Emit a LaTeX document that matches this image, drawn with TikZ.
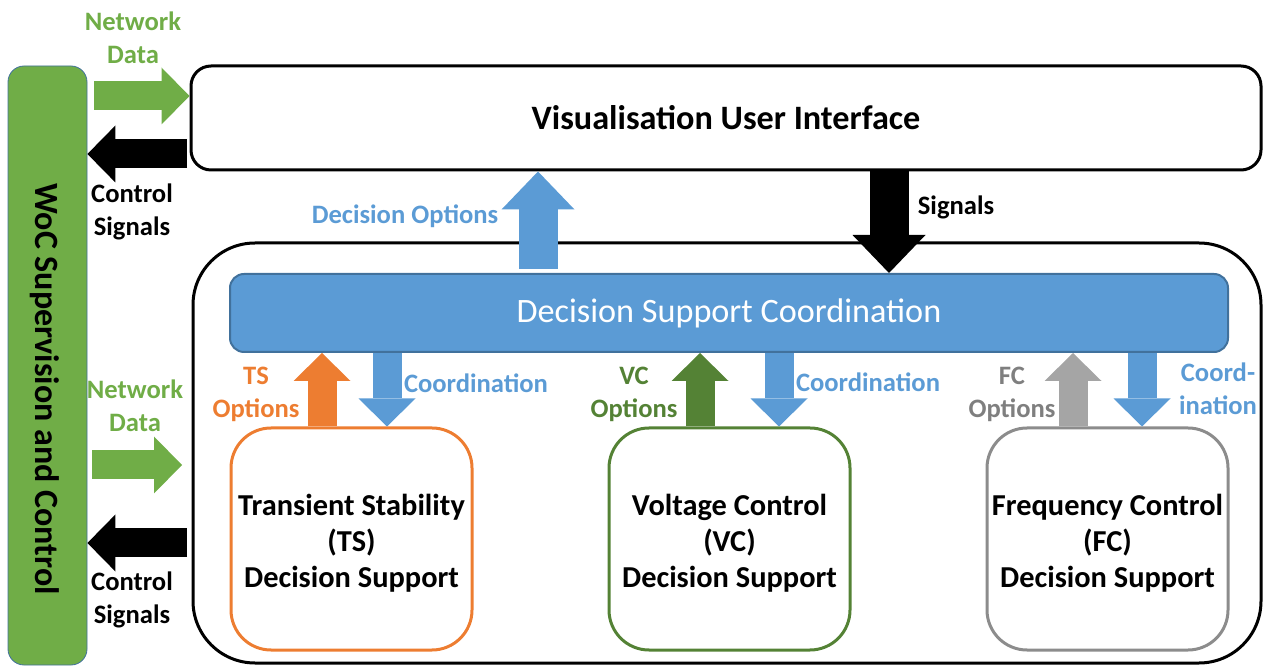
\documentclass[tikz,border=0pt]{standalone}
\usepackage{fontspec}
\setmainfont{Carlito}
\usetikzlibrary{arrows.meta}
\definecolor{wocgreen}{RGB}{112,173,71}
\definecolor{vcgreen}{RGB}{84,130,53}
\definecolor{dsblue}{RGB}{91,155,213}
\definecolor{dsedge}{RGB}{65,113,156}
\definecolor{tsorange}{RGB}{237,125,49}
\definecolor{fcgrey}{RGB}{165,165,165}
\definecolor{fctext}{RGB}{127,127,127}

\begin{document}
\begin{tikzpicture}[x=0.5pt,y=-0.5pt,
    optbox/.style={draw, rounded corners=20pt, line width=1.5pt, minimum width=120.5pt, minimum height=111pt},
    boxtext/.style={align=center, inner sep=0pt, font=\fontsize{15.2}{18}\selectfont\bfseries},
    lbl/.style={font=\fontsize{13.3}{16.5}\selectfont\bfseries, align=center, inner sep=0pt},
    fatarrow/.style={line width=19.5pt, -{Triangle[width=36.5pt,length=19pt,line width=0pt]}},
    midarrow/.style={line width=14.5pt, -{Triangle[width=28.5pt,length=14pt,line width=0pt]}}]
  \useasboundingbox (0,0) rectangle (1263,667);

  % WoC bar
  \node (woc) [draw=dsedge, fill=wocgreen, rounded corners=8pt, minimum width=39.5pt, minimum height=299.5pt, inner sep=0pt] at (47.5,365.5) {};
  \node (woctxt) [rotate=-90, inner sep=0pt, font=\fontsize{17}{18}\selectfont\bfseries] at (45,389) {WoC Supervision and Control};

  % Boxes
  \node (vis) [draw, line width=1.5pt, rounded corners=10pt, minimum width=535pt, minimum height=52pt, font=\fontsize{17.1}{18}\selectfont\bfseries] at (726,118) {Visualisation User Interface};
  \node (outer) [draw, line width=1.5pt, rounded corners=31pt, minimum width=534pt, minimum height=210pt] at (727,453) {};
  \node (dsc) [draw=dsedge, fill=dsblue, line width=1pt, rounded corners=7pt, minimum width=499pt, minimum height=39pt, text=white, font=\fontsize{17.1}{18}\selectfont] at (729,313) {Decision Support Coordination};
  \node (ts) [optbox, draw=tsorange] at (351.5,539) {};
  \node (vc) [optbox, draw=vcgreen] at (729.5,539) {};
  \node (fc) [optbox, draw=fcgrey!85!black] at (1107.5,539) {};
  \node (tstxt) [boxtext] at (351.5,543) {Transient Stability\\(TS)\\Decision Support};
  \node (vctxt) [boxtext] at (729.5,543) {Voltage Control\\(VC)\\Decision Support};
  \node (fctxt) [boxtext] at (1107.5,543) {Frequency Control\\(FC)\\Decision Support};

  % Arrow ends
  \coordinate (nd1) at (94,96);
  \coordinate (cs1) at (187,154);
  \coordinate (nd2) at (92,465);
  \coordinate (nd2e) at (182,465);
  \coordinate (cs2) at (187,543);
  \coordinate (dopt) at (538,269);
  \coordinate (sig) at (889,170);
  \coordinate (tsup) at (322,0);
  \coordinate (tsdn) at (387,0);
  \coordinate (vcup) at (700,0);
  \coordinate (vcdn) at (779,0);
  \coordinate (fcup) at (1073,0);
  \coordinate (fcdn) at (1142,0);

  % Block arrows
  \draw [midarrow, wocgreen] (nd1) -- (nd1 -| vis.west);
  \draw [midarrow, black] (cs1) -- (cs1 -| woc.east);
  \draw [midarrow, wocgreen] (nd2) -- (nd2e);
  \draw [midarrow, black] (cs2) -- (cs2 -| woc.east);
  \draw [fatarrow, dsblue] (dopt) -- (dopt |- vis.south);
  \draw [fatarrow, black] (sig) -- (sig |- dsc.north);
  \draw [midarrow, tsorange] (tsup |- ts.north) -- (tsup |- dsc.south);
  \draw [midarrow, dsblue] (tsdn |- dsc.south) -- (tsdn |- ts.north);
  \draw [midarrow, vcgreen] (vcup |- vc.north) -- (vcup |- dsc.south);
  \draw [midarrow, dsblue] (vcdn |- dsc.south) -- (vcdn |- vc.north);
  \draw [midarrow, fcgrey] (fcup |- fc.north) -- (fcup |- dsc.south);
  \draw [midarrow, dsblue] (fcdn |- dsc.south) -- (fcdn |- fc.north);

  % Text Node
  \node (ndl1) [lbl, text=wocgreen] at (133,38) {Network\\Data};
  \node (csl1) [lbl] at (132,212) {Control\\Signals};
  \node (ndl2) [lbl, text=wocgreen] at (135,406) {Network\\Data};
  \node (csl2) [lbl] at (132,600) {Control\\Signals};
  \node (doptl) [lbl, text=dsblue] at (405,216) {Decision Options};
  \node (sigl) [lbl] at (956,207) {Signals};
  \node (tsl) [lbl, text=tsorange] at (256,394) {TS\\Options};
  \node (tscl) [lbl, text=dsblue] at (476,383) {Coordination};
  \node (vcl) [lbl, text=vcgreen] at (634,394) {VC\\Options};
  \node (vccl) [lbl, text=dsblue] at (868,382) {Coordination};
  \node (fcl) [lbl, text=fctext] at (1012,394) {FC\\Options};
  \node (fccl) [lbl, text=dsblue] at (1218,389) {Coord-\\ination};
\end{tikzpicture}
\end{document}
